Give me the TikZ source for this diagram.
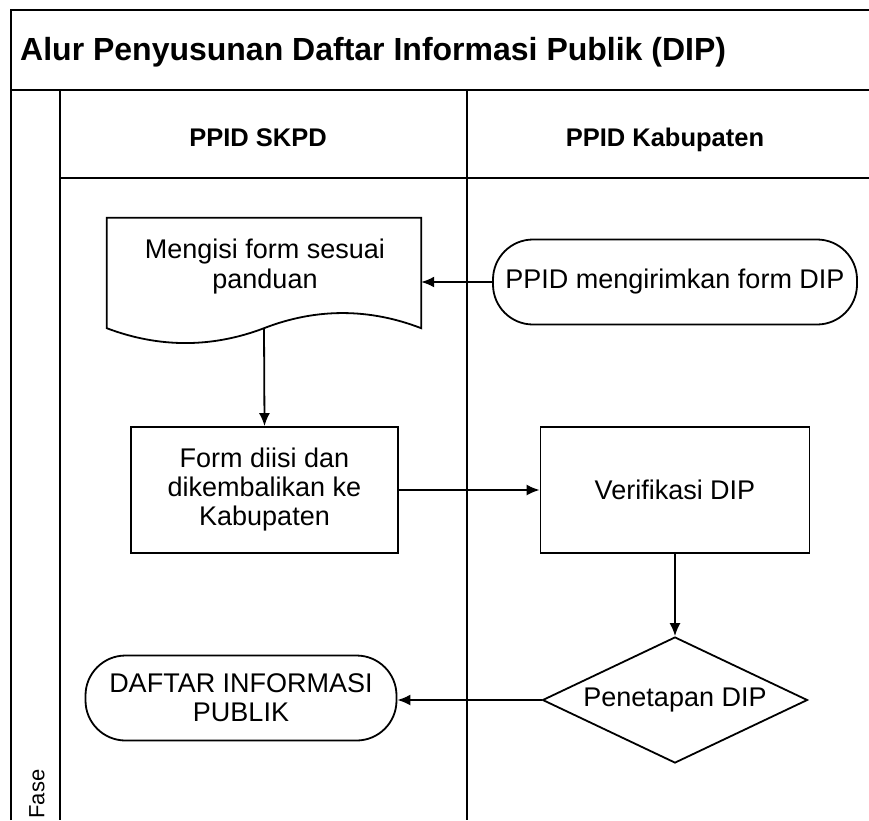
\documentclass[tikz,border=0pt]{standalone}
\usepackage{fontspec}
\setmainfont{Liberation Sans}
\usetikzlibrary{arrows.meta,shapes.geometric}
\tikzset{
  frame/.style={line width=1.8pt},
  conn/.style={line width=1.8pt,-{Latex[length=13pt,width=11pt]}},
  txt/.style={font=\fontsize{27}{29}\selectfont,align=center,inner sep=0pt},
  hdr/.style={font=\fontsize{25.5}{30}\selectfont\bfseries,inner sep=0pt,anchor=base},
  procbox/.style={draw,line width=1.8pt,rectangle,txt,minimum height=126pt},
  termbox/.style={draw,line width=1.8pt,rectangle,rounded corners=40pt,txt,minimum height=85pt},
  decbox/.style={draw,line width=1.8pt,diamond,shape aspect=2.1,txt,minimum width=265pt,minimum height=126pt}
}
\begin{document}
\begin{tikzpicture}[x=1pt,y=-1pt]
\useasboundingbox (0,0) rectangle (869,820);
% frame
\draw[frame] (11,820) -- (11,10) -- (869,10);
\draw[frame] (11,90) -- (869,90);
\draw[frame] (60,90) -- (60,820);
\draw[frame] (467,90) -- (467,820);
\draw[frame] (60,178) -- (869,178);
\node[font=\fontsize{32}{38}\selectfont\bfseries,anchor=west,inner sep=0pt] (title) at (20,52) {Alur Penyusunan Daftar Informasi Publik (DIP)};
\node[hdr] (h1) at (258,146) {PPID SKPD};
\node[hdr] (h2) at (665,146) {PPID Kabupaten};
\node[font=\fontsize{22}{26}\selectfont,rotate=90,inner sep=0pt] (fase) at (37,794) {Fase};
% document shape
\node[rectangle,minimum width=314pt,minimum height=110pt,inner sep=0pt] (doc) at (264,273) {};
\draw[line width=1.8pt] (doc.south west) -- (doc.north west) -- (doc.north east) -- (doc.south east)
  .. controls (369,308) and (316,308) .. (doc.south)
  .. controls (212,348) and (159,348) .. (doc.south west) -- cycle;
\node[txt,font=\fontsize{27}{30}\selectfont] (doctext) at (265,267) {Mengisi form sesuai\\panduan};
% nodes
\node[termbox,minimum width=364pt] (ppid) at (675,282) {PPID mengirimkan form DIP};
\node[procbox,minimum width=267pt] (form) at (264.5,490) {Form diisi dan\\dikembalikan ke\\Kabupaten};
\node[procbox,minimum width=269pt] (verif) at (675,490) {Verifikasi DIP};
\node[decbox] (penet) at (675,700) {Penetapan DIP};
\node[termbox,minimum width=311pt] (daftar) at (241,698) {DAFTAR INFORMASI\\PUBLIK};
% connectors
\draw[conn] (ppid.west) -- (ppid.west -| doc.east);
\draw[conn] (doc.south) -- (form.north);
\draw[conn] (form.east) -- (verif.west);
\draw[conn] (verif.south) -- (penet.north);
\draw[conn] (penet.west) -- (penet.west -| daftar.east);
\end{tikzpicture}
\end{document}
